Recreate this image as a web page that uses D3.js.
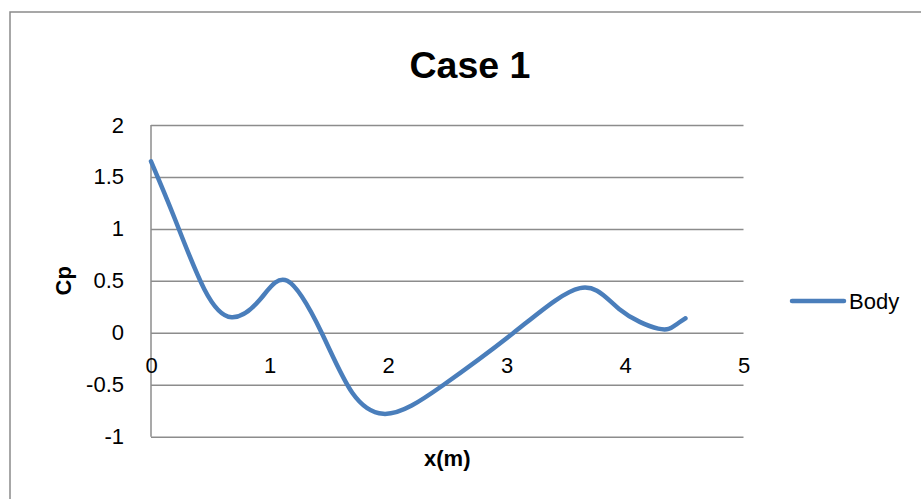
<!DOCTYPE html>
<html>
<head>
<meta charset="utf-8">
<script src="https://cdn.jsdelivr.net/npm/d3@7"></script>
<style>
  body { margin: 0; background: #fff; }
  svg { display: block; font-family: "Liberation Sans", Arial, sans-serif; }
</style>
</head>
<body>
<svg width="921" height="499"></svg>
<script>
// data
const xValues = [0, 0.2, 0.45, 0.68, 0.92, 1.15, 1.44, 1.7, 1.96, 2.2, 2.47, 3.06, 3.62, 3.95, 4.28, 4.42, 4.51];
const cpValues = [1.65, 1.1, 0.42, 0.15, 0.32, 0.50, 0.0, -0.58, -0.78, -0.70, -0.50, 0.0, 0.43, 0.23, 0.04, 0.07, 0.14];
const xTicks = [0, 1, 2, 3, 4, 5];
const yTicks = [-1, -0.5, 0, 0.5, 1, 1.5, 2];
const seriesName = "Body";
const title = "Case 1";

const svg = d3.select("svg");
const plotLeft = 151, plotTop = 125, width = 592.5, height = 311.7;

// chart border
svg.append("rect")
  .attr("x", 10).attr("y", 12)
  .attr("width", 930).attr("height", 500)
  .attr("fill", "none")
  .attr("stroke", "#8a8a8a")
  .attr("stroke-width", 1.5);

const xScale = d3.scaleLinear().domain([0, 5]).range([0, width]);
const yScale = d3.scaleLinear().domain([-1, 2]).range([height, 0]);

const g = svg.append("g").attr("transform", `translate(${plotLeft},${plotTop})`);

// gridlines + y labels
const yAxis = g.append("g")
  .call(d3.axisLeft(yScale).tickValues(yTicks).tickSize(-width).tickPadding(27).tickFormat(d => d));
yAxis.select(".domain").remove();
yAxis.selectAll("line").attr("stroke", "#8c8c8c").attr("stroke-width", 1.5);
yAxis.selectAll("text").attr("font-size", 22).attr("fill", "#000")
  .attr("font-family", "Liberation Sans, Arial, sans-serif");

// vertical axis line
g.append("line")
  .attr("x1", xScale(0)).attr("x2", xScale(0))
  .attr("y1", 0).attr("y2", height)
  .attr("stroke", "#8c8c8c").attr("stroke-width", 1.5);

// x labels sit under the zero line
const xAxis = g.append("g")
  .attr("transform", `translate(0,${yScale(0)})`)
  .call(d3.axisBottom(xScale).tickValues(xTicks).tickSize(0).tickPadding(25).tickFormat(d => d));
xAxis.select(".domain").remove();
xAxis.selectAll("text").attr("font-size", 22).attr("fill", "#000")
  .attr("font-family", "Liberation Sans, Arial, sans-serif");

// series, smoothed like the spreadsheet line
const points = xValues.map((x, i) => [x, cpValues[i]]);
const line = d3.line()
  .x(d => xScale(d[0]))
  .y(d => yScale(d[1]))
  .curve(d3.curveNatural);
g.append("path")
  .datum(points)
  .attr("d", line)
  .attr("fill", "none")
  .attr("stroke", "#4a7ebb")
  .attr("stroke-width", 4.5)
  .attr("stroke-linecap", "round")
  .attr("stroke-linejoin", "round");

// title
svg.append("text")
  .attr("x", 470).attr("y", 78)
  .attr("text-anchor", "middle")
  .attr("font-size", 37.5).attr("font-weight", "bold")
  .text(title);

// axis titles
svg.append("text")
  .attr("x", plotLeft + width / 2).attr("y", 466)
  .attr("text-anchor", "middle")
  .attr("font-size", 22).attr("font-weight", "bold")
  .text("x(m)");
svg.append("text")
  .attr("transform", `translate(71,${plotTop + height / 2}) rotate(-90)`)
  .attr("text-anchor", "middle")
  .attr("font-size", 22).attr("font-weight", "bold")
  .text("Cp");

// legend
svg.append("line")
  .attr("x1", 792).attr("x2", 844)
  .attr("y1", 301).attr("y2", 301)
  .attr("stroke", "#4a7ebb").attr("stroke-width", 4.5)
  .attr("stroke-linecap", "round");
svg.append("text")
  .attr("x", 849).attr("y", 309)
  .attr("font-size", 22)
  .text(seriesName);
</script>
</body>
</html>
